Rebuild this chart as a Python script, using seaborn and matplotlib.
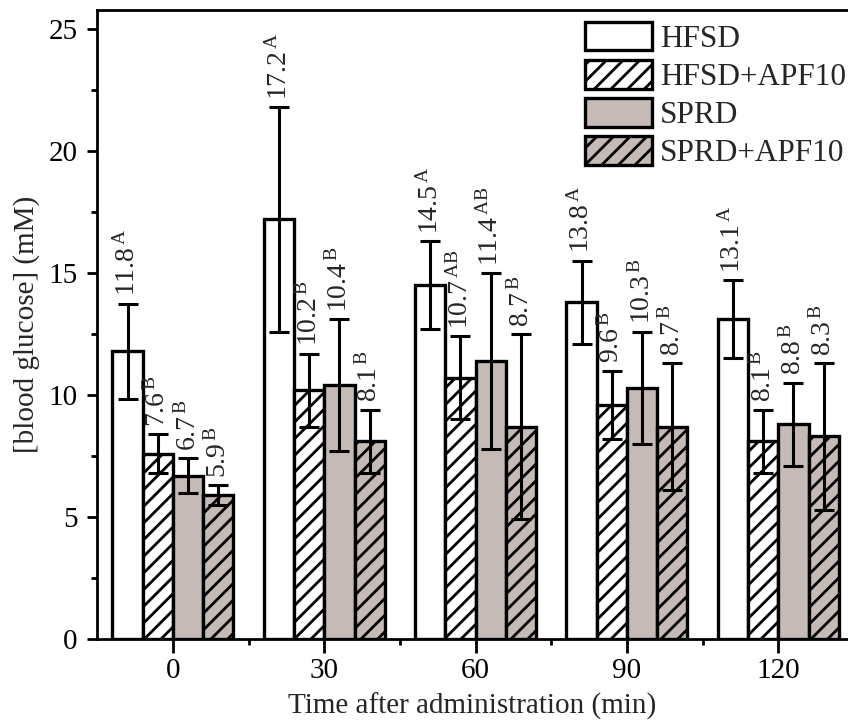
import numpy as np
import pandas as pd
import matplotlib
matplotlib.use("Agg")
import matplotlib.pyplot as plt
import seaborn as sns

# ---------------- data ----------------
times = ["0", "30", "60", "90", "120"]
groups = ["HFSD", "HFSD+APF10", "SPRD", "SPRD+APF10"]
hfsd = [11.8, 17.2, 14.5, 13.8, 13.1]
hfsd_apf = [7.6, 10.2, 10.7, 9.6, 8.1]
sprd = [6.7, 10.4, 11.4, 10.3, 8.8]
sprd_apf = [5.9, 8.1, 8.7, 8.7, 8.3]
hfsd_err = [1.95, 4.6, 1.8, 1.7, 1.6]
hfsd_apf_err = [0.8, 1.5, 1.7, 1.4, 1.3]
sprd_err = [0.7, 2.7, 3.6, 2.3, 1.7]
sprd_apf_err = [0.4, 1.3, 3.8, 2.6, 3.0]
hfsd_sig = ["A", "A", "A", "A", "A"]
hfsd_apf_sig = ["B", "B", "AB", "B", "B"]
sprd_sig = ["B", "B", "AB", "B", "B"]
sprd_apf_sig = ["B", "B", "B", "B", "B"]

values = [hfsd, hfsd_apf, sprd, sprd_apf]
errors = [hfsd_err, hfsd_apf_err, sprd_err, sprd_apf_err]
sigs = [hfsd_sig, hfsd_apf_sig, sprd_sig, sprd_apf_sig]

rows = []
for g, vals in zip(groups, values):
    for t, v in zip(times, vals):
        rows.append({"time": t, "group": g, "value": v})
df = pd.DataFrame(rows)

# ---------------- style ----------------
sns.set_theme(style="ticks")
plt.rcParams["font.family"] = ["Liberation Serif", "DejaVu Serif"]
plt.rcParams["mathtext.fontset"] = "custom"
plt.rcParams["mathtext.rm"] = "Liberation Serif"
plt.rcParams["mathtext.it"] = "Liberation Serif:italic"
plt.rcParams["mathtext.bf"] = "Liberation Serif:bold"
plt.rcParams["hatch.linewidth"] = 2.0
plt.rcParams["hatch.color"] = "black"

gray = "#c5bab6"
palette = {"HFSD": "white", "HFSD+APF10": "white", "SPRD": gray, "SPRD+APF10": gray}
hatches = {"HFSD": "", "HFSD+APF10": "//", "SPRD": "", "SPRD+APF10": "//"}

fig = plt.figure(figsize=(8.48, 7.24), dpi=100)
ax = fig.add_axes([97 / 848, 1 - 639 / 724, 1 - 97 / 848, (639 - 10) / 724])

sns.barplot(data=df, x="time", y="value", hue="group", order=times,
            hue_order=groups, palette=palette, errorbar=None, width=0.8,
            edgecolor="black", linewidth=2.4, legend=False, ax=ax, saturation=1)

bar_containers = list(ax.containers)
for cont, g, errs, sg, vals in zip(bar_containers, groups, errors, sigs, values):
    xs = []
    for p in cont.patches:
        p.set_hatch(hatches[g])
        p.set_edgecolor("black")
        xs.append(p.get_x() + p.get_width() / 2)
    ax.errorbar(xs, vals, yerr=errs, fmt="none", ecolor="black",
                elinewidth=2.2, capsize=7, capthick=2.2, zorder=5)
    for x, v, e, s in zip(xs, vals, errs, sg):
        ax.text(x, v + e + 0.3, f"{v}" + r"$^{\,\mathrm{" + s + "}}$",
                rotation=90, ha="center", va="bottom", fontsize=20)

ax.set_ylim(0, 25.78)
ax.set_xlim(-0.502, 4.461)
ax.set_yticks([0, 5, 10, 15, 20, 25])
ax.set_yticks(np.arange(2.5, 25, 5), minor=True)
ax.set_xticks(np.arange(0.5, 4.5, 1), minor=True)
ax.tick_params(axis="both", which="major", direction="out", length=7, width=2,
               labelsize=21, color="black", labelcolor="black", pad=4)
ax.tick_params(axis="y", which="major", pad=7)
ax.tick_params(axis="both", which="minor", direction="out", length=4.5, width=2,
               color="black")
ax.tick_params(axis="x", which="major", length=10)
for s in ["left", "bottom", "top"]:
    ax.spines[s].set_visible(True)
    ax.spines[s].set_linewidth(2)
    ax.spines[s].set_color("black")
ax.spines["right"].set_visible(False)

ax.set_xlabel("Time after administration (min)", fontsize=21, labelpad=6)
ax.set_ylabel("[blood glucose] (mM)", fontsize=21, labelpad=6)

handles = [cont.patches[0] for cont in bar_containers]
leg = ax.legend(handles, groups, loc="upper left", frameon=False, fontsize=22.5,
                handlelength=2.15, handleheight=1.02, handletextpad=0.25,
                labelspacing=0.2, borderpad=0, borderaxespad=0,
                bbox_to_anchor=((585 - 97) / 751, 1 - 12 / 629))

fig.savefig("out.png", dpi=100)
